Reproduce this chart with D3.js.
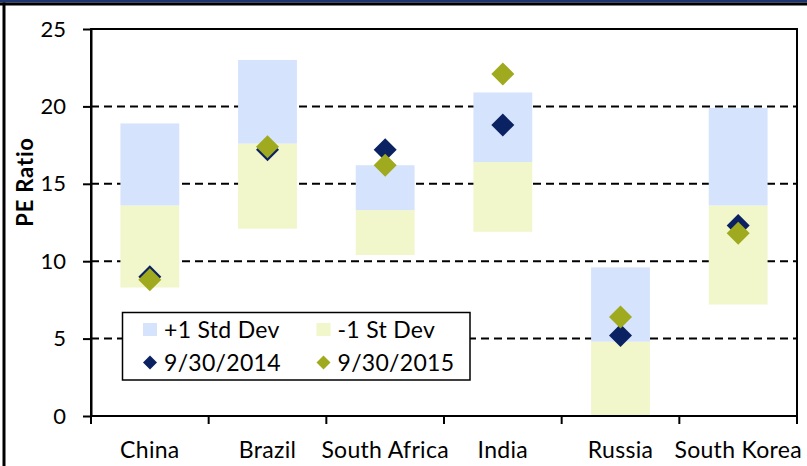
<!DOCTYPE html>
<html>
<head>
<meta charset="utf-8">
<script src="https://cdn.jsdelivr.net/npm/d3@7"></script>
<style>
  html, body { margin: 0; padding: 0; background: #fff; }
  svg { display: block; font-family: Lato, "Open Sans", sans-serif; }
</style>
</head>
<body>
<svg id="chart" width="807" height="466"></svg>
<script>
// P/E ranges by market: ±1 standard deviation bands around the average,
// with the readings on two dates.
const categories = ["China", "Brazil", "South Africa", "India", "Russia", "South Korea"];
const minus1Sd = [8.3, 12.1, 10.4, 11.9, 0.0, 7.2];   // bottom of band
const average  = [13.6, 17.6, 13.3, 16.4, 4.8, 13.6]; // split between the two shades
const plus1Sd  = [18.9, 23.0, 16.2, 20.9, 9.6, 19.9]; // top of band
const pe2014   = [9.0, 17.2, 17.2, 18.8, 5.2, 12.3];
const pe2015   = [8.8, 17.4, 16.2, 22.1, 6.4, 11.8];
const yTicks   = [0, 5, 10, 15, 20, 25];
const legendLabels = ["+1 Std Dev", "-1 St Dev", "9/30/2014", "9/30/2015"];

const colors = {
  upper: "#d6e3fc",
  lower: "#f2f6cb",
  d2014: "#0b2262",
  d2015: "#9faa1e",
  frameTop: "#1d346f"
};

const svg = d3.select("#chart");
const W = 807, H = 466;
const plot = { left: 91, right: 797, top: 29, bottom: 416 };

const x = d3.scaleBand()
  .domain(categories)
  .range([plot.left, plot.right])
  .paddingInner(0.5)
  .paddingOuter(0.25);

const y = d3.scaleLinear().domain([0, 25]).range([plot.bottom, plot.top]);

// outer frame
svg.append("rect").attr("x", 0).attr("y", 0).attr("width", W).attr("height", 2.5).attr("fill", colors.frameTop);
svg.append("rect").attr("x", 0).attr("y", 2.5).attr("width", W).attr("height", 3).attr("fill", "#000");
svg.append("rect").attr("x", 2.5).attr("y", 2.5).attr("width", 3).attr("height", H).attr("fill", "#000");

// dashed gridlines
svg.append("g")
  .selectAll("line")
  .data(yTicks.filter(v => v > 0 && v < 25))
  .join("line")
  .attr("x1", plot.left).attr("x2", plot.right)
  .attr("y1", d => y(d)).attr("y2", d => y(d))
  .attr("stroke", "#000")
  .attr("stroke-width", 2)
  .attr("stroke-dasharray", "8,5");

// bands: lower half (-1 sd to average) and upper half (average to +1 sd)
const bars = svg.append("g");
bars.selectAll("rect.lower")
  .data(categories)
  .join("rect")
  .attr("class", "lower")
  .attr("x", d => x(d))
  .attr("width", x.bandwidth())
  .attr("y", (d, i) => y(average[i]))
  .attr("height", (d, i) => y(minus1Sd[i]) - y(average[i]))
  .attr("fill", colors.lower);
bars.selectAll("rect.upper")
  .data(categories)
  .join("rect")
  .attr("class", "upper")
  .attr("x", d => x(d))
  .attr("width", x.bandwidth())
  .attr("y", (d, i) => y(plus1Sd[i]))
  .attr("height", (d, i) => y(average[i]) - y(plus1Sd[i]))
  .attr("fill", colors.upper);

// plot-area border (top and right)
svg.append("rect")
  .attr("x", plot.left).attr("y", plot.top)
  .attr("width", plot.right - plot.left).attr("height", plot.bottom - plot.top)
  .attr("fill", "none").attr("stroke", "#000").attr("stroke-width", 2);

// y axis
const yAxis = svg.append("g")
  .attr("transform", `translate(${plot.left},0)`)
  .call(d3.axisLeft(y).tickValues(yTicks).tickSize(8).tickPadding(17).tickSizeOuter(0));
yAxis.select(".domain").attr("stroke", "#000").attr("stroke-width", 2);
yAxis.selectAll(".tick line").attr("stroke", "#000").attr("stroke-width", 2);
yAxis.selectAll(".tick text").attr("font-size", 22).attr("fill", "#000").attr("font-family", "Lato");

// x axis: boundary ticks, labels centred in each band
const xAxis = svg.append("g").attr("transform", `translate(0,${plot.bottom})`);
xAxis.append("line")
  .attr("x1", plot.left).attr("x2", plot.right)
  .attr("stroke", "#000").attr("stroke-width", 2);
const boundaries = d3.range(categories.length + 1).map(i => plot.left + i * x.step());
xAxis.selectAll("line.tick")
  .data(boundaries)
  .join("line")
  .attr("class", "tick")
  .attr("x1", d => d).attr("x2", d => d)
  .attr("y1", 0).attr("y2", 8)
  .attr("stroke", "#000").attr("stroke-width", 2);
xAxis.selectAll("text")
  .data(categories)
  .join("text")
  .attr("x", d => x(d) + x.bandwidth() / 2)
  .attr("y", 42)
  .attr("text-anchor", "middle")
  .attr("font-size", 23)
  .attr("letter-spacing", 0.3)
  .text(d => d);

// axis title
svg.append("text")
  .attr("transform", `translate(33,182) rotate(-90)`)
  .attr("text-anchor", "middle")
  .attr("font-size", 22)
  .attr("font-weight", "bold")
  .attr("letter-spacing", 0.8)
  .text("PE Ratio");

// diamonds
const diamond = s => `M0,${-s}L${s},0L0,${s}L${-s},0Z`;
const cx = d => x(d) + x.bandwidth() / 2;
svg.append("g")
  .selectAll("path")
  .data(categories)
  .join("path")
  .attr("d", diamond(11.5))
  .attr("transform", (d, i) => `translate(${cx(d)},${y(pe2014[i])})`)
  .attr("fill", colors.d2014);
svg.append("g")
  .selectAll("path")
  .data(categories)
  .join("path")
  .attr("d", diamond(11.5))
  .attr("transform", (d, i) => `translate(${cx(d)},${y(pe2015[i])})`)
  .attr("fill", colors.d2015);

// legend
const lg = svg.append("g");
lg.append("rect")
  .attr("x", 122.5).attr("y", 312.5).attr("width", 347.5).attr("height", 67.5)
  .attr("fill", "#fff").attr("stroke", "#000").attr("stroke-width", 1.5);
const legendItems = [
  { label: legendLabels[0], kind: "square", color: colors.upper, col: 0, row: 0 },
  { label: legendLabels[1], kind: "square", color: colors.lower, col: 1, row: 0 },
  { label: legendLabels[2], kind: "diamond", color: colors.d2014, col: 0, row: 1 },
  { label: legendLabels[3], kind: "diamond", color: colors.d2015, col: 1, row: 1 }
];
const colX = [150, 323.5];
const rowY = [329.5, 362.5];
legendItems.forEach(it => {
  const gx = colX[it.col], gy = rowY[it.row];
  if (it.kind === "square") {
    lg.append("rect").attr("x", gx - 7).attr("y", gy - 6.5).attr("width", 14).attr("height", 13).attr("fill", it.color);
  } else {
    lg.append("path").attr("d", diamond(7)).attr("transform", `translate(${gx},${gy})`).attr("fill", it.color);
  }
  lg.append("text")
    .attr("x", gx + 14).attr("y", gy + 8)
    .attr("font-size", 23)
    .attr("letter-spacing", 0.3)
    .text(it.label);
});
</script>
</body>
</html>
